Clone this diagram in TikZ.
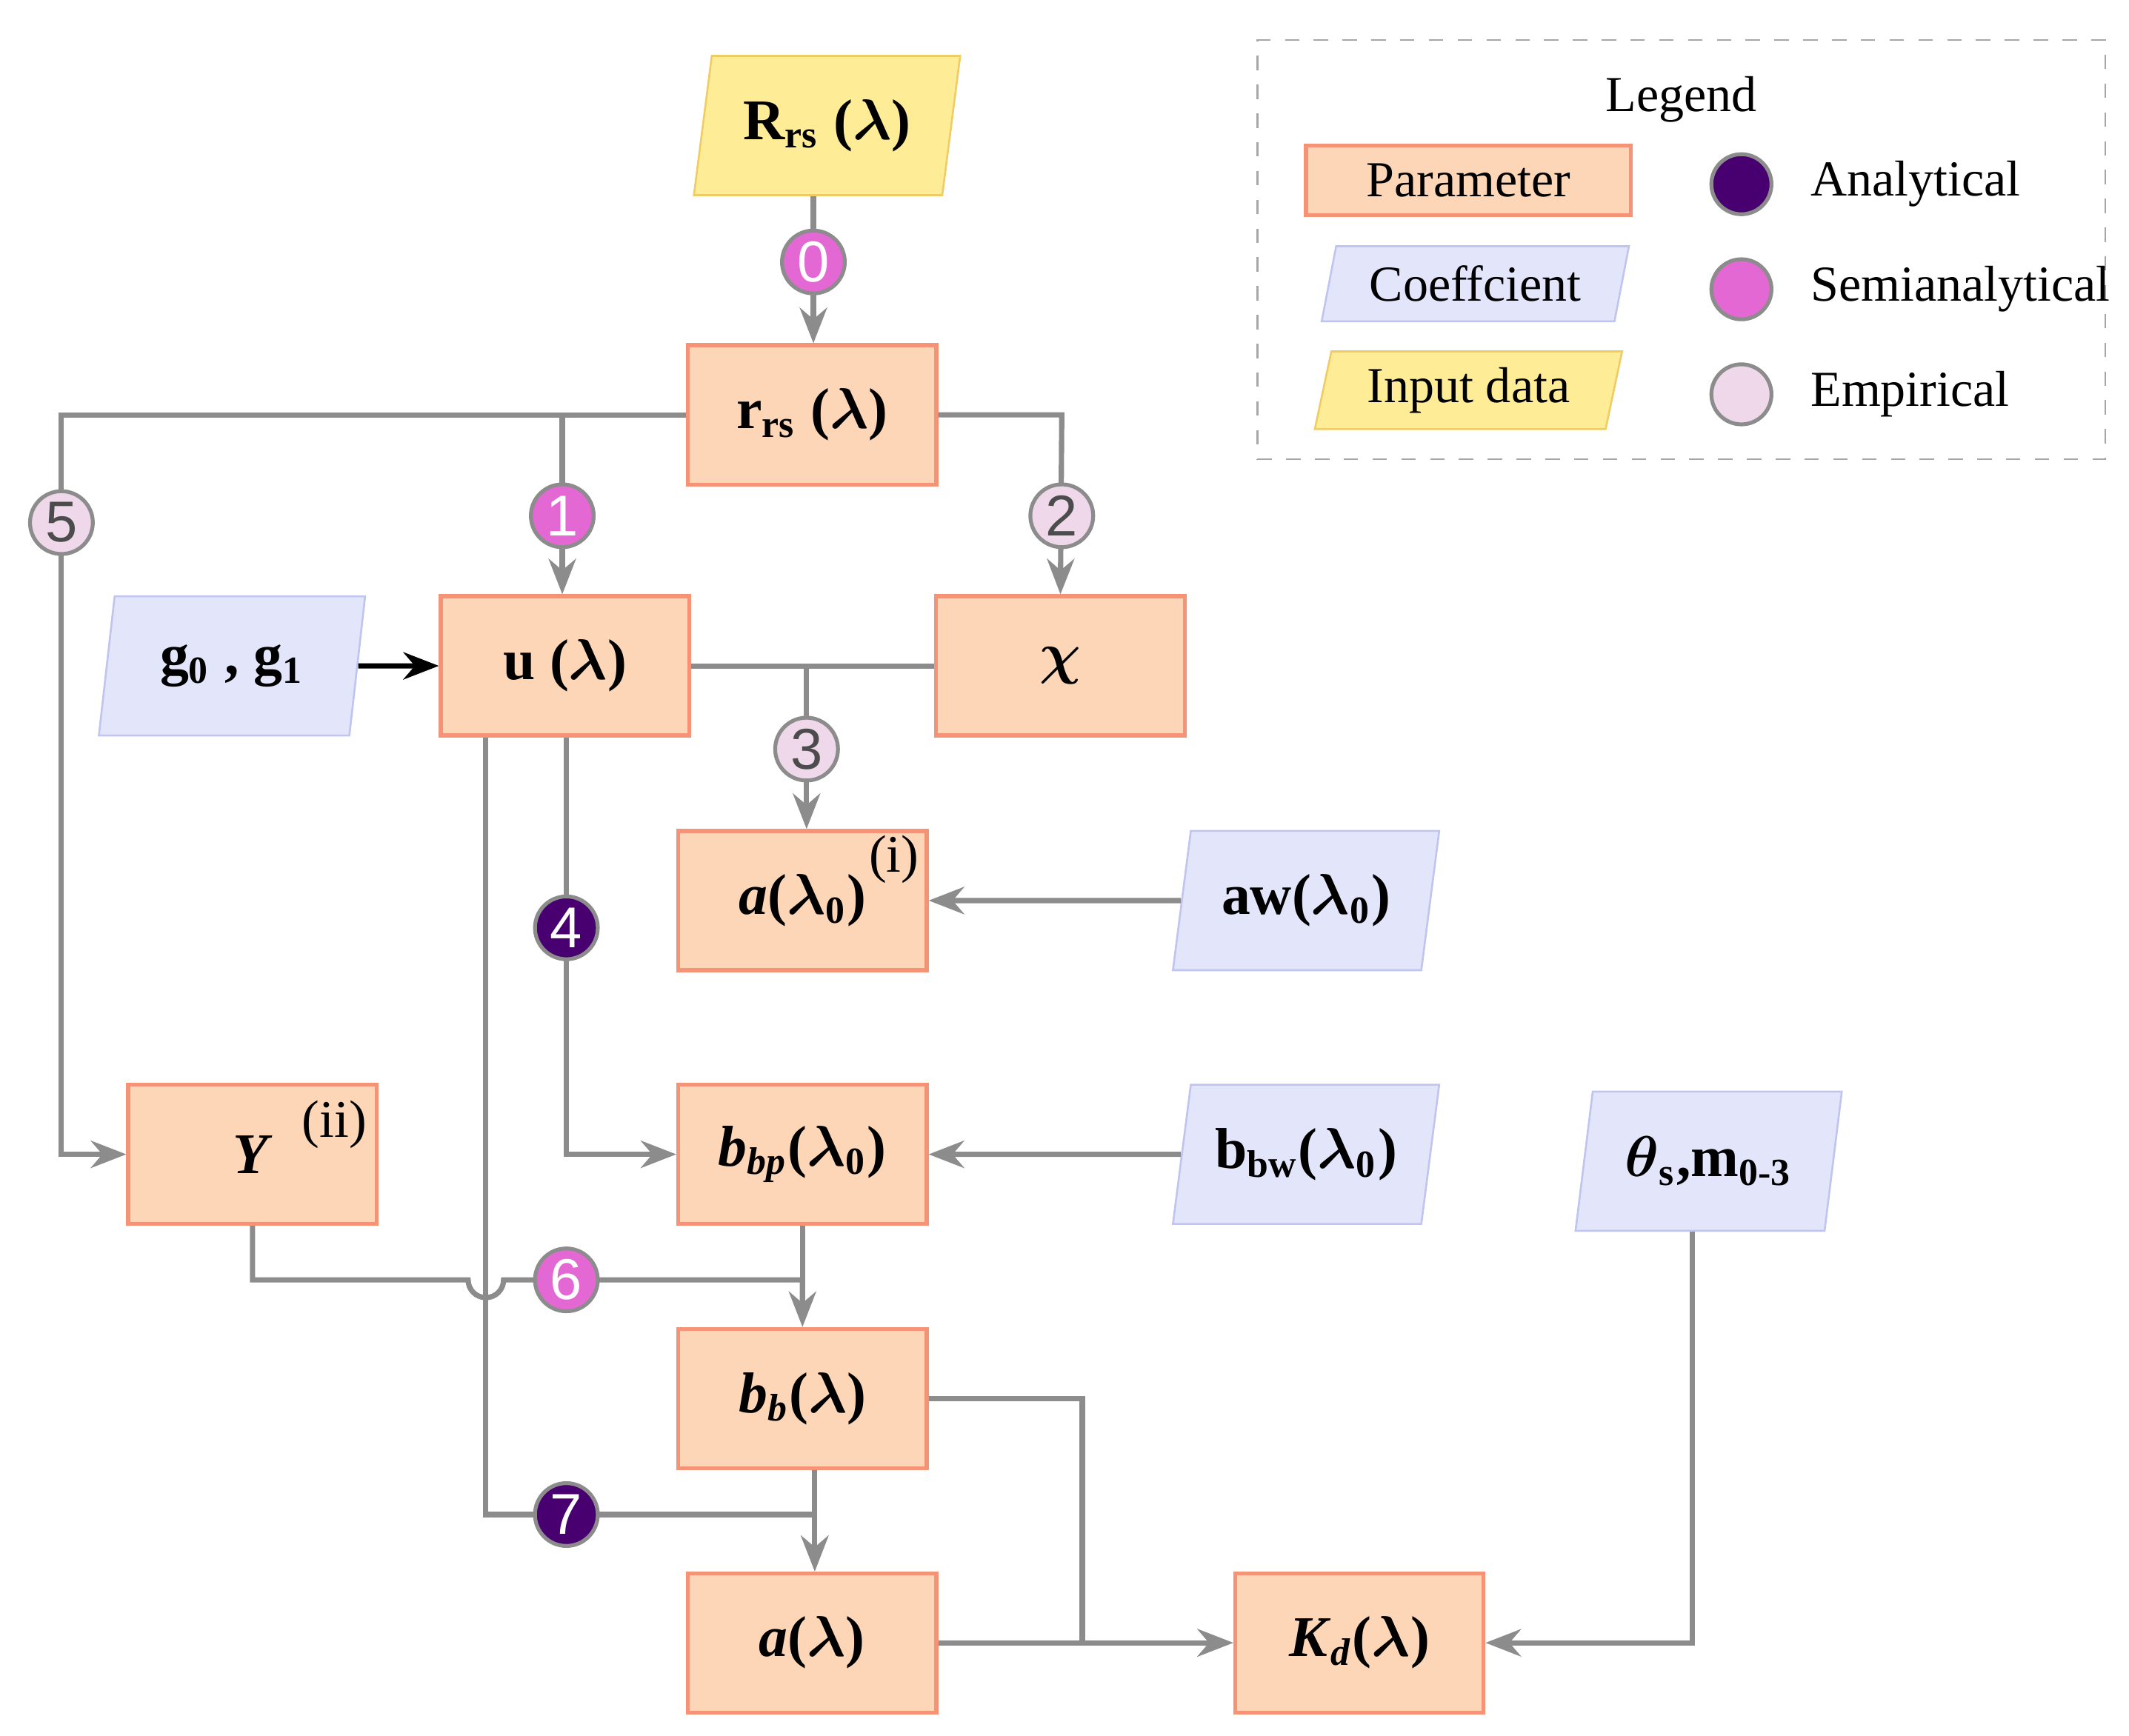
\documentclass[tikz,border=0pt]{standalone}
\usepackage{amsmath}
\usepackage{fontspec}
\setmainfont{Liberation Serif}
\newfontfamily\numfont{Liberation Sans}
\usetikzlibrary{shapes.geometric,arrows.meta,positioning}
\definecolor{parfill}{RGB}{252,214,182}
\definecolor{pardraw}{RGB}{246,146,118}
\definecolor{coefill}{RGB}{227,229,250}
\definecolor{coedraw}{RGB}{192,197,240}
\definecolor{inpfill}{RGB}{255,236,150}
\definecolor{inpdraw}{RGB}{240,205,100}
\definecolor{anacol}{RGB}{72,0,112}
\definecolor{semcol}{RGB}{228,104,212}
\definecolor{empcol}{RGB}{238,216,234}
\definecolor{linecol}{RGB}{140,140,140}
\begin{document}
\begin{tikzpicture}[x=0.01cm,y=-0.01cm,
param/.style={
% The shape:
rectangle,
draw=pardraw,fill=parfill,thick,
minimum width=1.82cm,minimum height=1.02cm,
font=\fontsize{12}{14}\selectfont\bfseries
},
coef/.style={
trapezium,trapezium left angle=78,trapezium right angle=102,
trapezium stretches body,
draw=coedraw,fill=coefill,
minimum width=1.95cm,minimum height=1.02cm,
font=\fontsize{12}{14}\selectfont\bfseries
},
inp/.style={coef,draw=inpdraw,fill=inpfill},
dot/.style={
circle,minimum size=0.46cm,inner sep=0pt,draw=linecol,thick,
font=\numfont\fontsize{12}{14}\selectfont
},
ana/.style={dot,fill=anacol,text=white},
sem/.style={dot,fill=semcol,text=white},
emp/.style={dot,fill=empcol,text=black!70},
leg/.style={font=\fontsize{10.5}{12}\selectfont},
link/.style={draw=linecol,line width=1.1pt},
arr/.style={link,-{Stealth[length=2.6mm,width=2mm]}}
]
\useasboundingbox (0,0) rectangle (1560,1272);
% boxes
\node (Rrs) [inp] at (606,92) {R$_{\mathbf{rs}}$ ($\boldsymbol\lambda$)};
\node (rrs) [param] at (595,304) {r$_{\mathbf{rs}}$ ($\boldsymbol\lambda$)};
\node (g) [coef] at (170,488) {g$_{\mathbf{0}}$ , g$_{\mathbf{1}}$};
\node (u) [param] at (414,488) {u ($\boldsymbol\lambda$)};
\node (chi) [param] at (777,488) {$\boldsymbol\chi$};
\node (a0) [param] at (588,660) {\textit{a}($\boldsymbol\lambda_{\mathbf{0}}$)};
\node (aw) [coef] at (957,660) {aw($\boldsymbol\lambda_{\mathbf{0}}$)};
\node (Y) [param] at (185,846) {\textit{Y}};
\node (bbp) [param] at (588,846) {\textit{b}$_{\textbf{\textit{bp}}}$($\boldsymbol\lambda_{\mathbf{0}}$)};
\node (bbw) [coef] at (957,846) {b$_{\mathbf{bw}}$($\boldsymbol\lambda_{\mathbf{0}}$)};
\node (th) [coef] at (1252,851) {$\boldsymbol\theta_{\mathbf{s}}$,m$_{\mathbf{0\text{-}3}}$};
\node (bb) [param] at (588,1025) {\textit{b}$_{\textbf{\textit{b}}}$($\boldsymbol\lambda$)};
\node (a) [param] at (595,1204) {\textit{a}($\boldsymbol\lambda$)};
\node (Kd) [param] at (996,1204) {\textit{K}$_{\textbf{\textit{d}}}$($\boldsymbol\lambda$)};
\node (i) at (655,630) {\fontsize{11}{13}\selectfont(i)};
\node (ii) at (245,824) {\fontsize{11}{13}\selectfont(ii)};
% connectors
\draw [arr] (Rrs.south-|596,0) -- (rrs.north-|596,0);
\draw [arr] (rrs.west) -- (45,304) -- (45,846) -- (Y.west);
\draw [arr] (412,304) -- (u.north-|412,0);
\draw [arr] (rrs.east) -- (778,304) -- (chi.north);
\draw [-{Stealth[length=2.6mm,width=2mm]},line width=1.1pt] (g) -- (u);
\draw [link] (u.east) -- (chi.west);
\draw [arr] (591,490) -- (a0.north-|591,0);
\draw [arr] (u.south-|415,0) -- (415,846) -- (bbp.west);
\draw [arr] (u.south-|356,0) -- (356,1110) -- (597,1110) -- (a.north-|597,0);
\draw [arr] (Y.south) -- (185,938) -- (343,938) arc[start angle=180,end angle=0,radius=13] -- (588,938) -- (bb.north);
\draw [link] (bbp.south) -- (588,938);
\draw [arr] (bb.south-|597,0) -- (a.north-|597,0);
\draw [arr] (aw) -- (a0);
\draw [arr] (bbw) -- (bbp);
\draw [arr] (bb.east) -- (793,1025) -- (793,1204) -- (Kd.west);
\draw [arr] (a.east) -- (Kd.west);
\draw [arr] (th.south-|1240,0) -- (1240,1204) -- (Kd.east);
% method markers
\node (c0) [sem] at (596,192) {0};
\node (c1) [sem] at (412,378) {1};
\node (c2) [emp] at (778,378) {2};
\node (c3) [emp] at (591,549) {3};
\node (c4) [ana] at (415,680) {4};
\node (c5) [emp] at (45,383) {5};
\node (c6) [sem] at (415,938) {6};
\node (c7) [ana] at (415,1110) {7};
% legend
\node (legbox) [draw=black!35,dashed,minimum width=6.21cm,minimum height=3.07cm] at (1232,183) {};
\node (legt) [leg] at (1232,73) {Legend};
\node (lp) [param,leg,minimum width=2.38cm,minimum height=0.51cm] at (1076,132) {Parameter};
\node (lc) [coef,leg,minimum width=2.25cm,minimum height=0.55cm] at (1081,208) {Coeffcient};
\node (li) [inp,leg,minimum width=2.25cm,minimum height=0.56cm] at (1076,286) {Input data};
\node (la) [dot,fill=anacol,minimum size=0.44cm] at (1276,135) {};
\node (ls) [dot,fill=semcol,minimum size=0.44cm] at (1276,212) {};
\node (le) [dot,fill=empcol,minimum size=0.44cm] at (1276,289) {};
\node (lat) [right=1.5mm of la,leg] {Analytical};
\node (lst) [right=1.5mm of ls,leg] {Semianalytical};
\node (let) [right=1.5mm of le,leg] {Empirical};
\end{tikzpicture}
\end{document}
